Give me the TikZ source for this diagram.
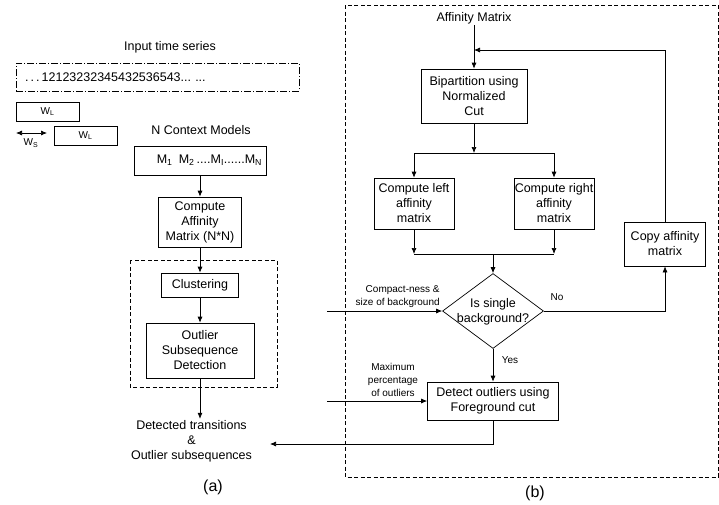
\documentclass[tikz,border=0pt]{standalone}
\usepackage{fontspec}
\setmainfont{Liberation Sans}
\usetikzlibrary{arrows.meta}
\usetikzlibrary{shapes.geometric}

\newcommand{\mainfs}{\fontsize{12.5}{15}\selectfont}
\newcommand{\smallfs}{\fontsize{10}{13}\selectfont}
\newcommand{\capfs}{\fontsize{16}{19}\selectfont}

\begin{document}
\begin{tikzpicture}[x=1pt, y=-1pt,
        line width=0.7pt,
        >={Latex[length=6pt,width=5pt]},
        every node/.style={font=\mainfs, inner sep=1pt},
        box/.style={draw, align=center, inner sep=0pt},
        seqbox/.style={draw, inner sep=0pt, dash pattern=on 7pt off 2pt on 1pt off 2pt},
        grpbox/.style={draw, dash pattern=on 4pt off 2.5pt},
        decision/.style={draw, diamond, inner sep=0pt},
        note/.style={font=\smallfs, align=center}]
        \useasboundingbox (0,0) rectangle (719,504);

        \node (title) at (170,47) {Input time series};
        \node[seqbox, minimum width=283pt, minimum height=28pt, text width=265pt, align=left] (seq) at (157.5,77) {.\,.\,.\,12123232345432536543...\ ...};
        \node[box, font=\smallfs, minimum width=63pt, minimum height=19pt] (wl1) at (47.5,111.5) {W\textsubscript{L}};
        \node[box, font=\smallfs, minimum width=63pt, minimum height=19pt] (wl2) at (85.5,135.5) {W\textsubscript{L}};
        \coordinate (ws1) at (16,133);
        \coordinate (ws2) at (47,133);
        \draw[<->] (ws1) -- (ws2);
        \node[font=\smallfs] (ws) at (31,143) {W\textsubscript{S}};

        \node (ctx) at (201,130) {N Context Models};
        \node[box, minimum width=132pt, minimum height=29pt, text width=124pt, align=right] (models) at (200,160.5) {M\textsubscript{1}\,\ M\textsubscript{2}\,....M\textsubscript{I}......M\textsubscript{N}};
        \node[box, minimum width=83pt, minimum height=50pt] (affin) at (200,222) {Compute\\Affinity\\Matrix (N*N)};
        \node[box, minimum width=77pt, minimum height=24pt] (clust) at (200,285) {Clustering};
        \node[box, minimum width=108pt, minimum height=55pt] (outlier) at (200,350.5) {Outlier\\Subsequence\\Detection};
        \draw[grpbox] (130,260) rectangle (277,387);
        \node[align=center] (result) at (191.5,441) {Detected transitions\\\&\\Outlier subsequences};
        \node[font=\capfs] (capa) at (213,487) {(a)};

        \draw[->] (models) -- (affin);
        \draw[->] (affin) -- (clust);
        \draw[->] (clust) -- (outlier);
        \draw[->] (outlier) -- (outlier |- result.north);

        \draw[grpbox] (345,5) rectangle (718,477);
        \node (affmat) at (474,18) {Affinity Matrix};
        \node[box, minimum width=106pt, minimum height=54pt] (bipart) at (474,96) {Bipartition using\\Normalized\\Cut};
        \coordinate (split) at (474,153);
        \node[box, minimum width=80pt, minimum height=51pt] (leftaff) at (414,203.5) {Compute left\\affinity\\matrix};
        \node[box, minimum width=80pt, minimum height=51pt] (rightaff) at (554,203.5) {Compute right\\affinity\\matrix};
        \coordinate (join) at (493,254);
        \node[decision, minimum width=101pt, minimum height=75pt] (single) at (493,311) {};
        \node[align=center] (singletxt) at (493,312) {Is single\\background?};
        \node[box, minimum width=81pt, minimum height=44pt] (copyaff) at (665,244) {Copy affinity\\matrix};
        \coordinate (loopin) at (474,50);
        \node[box, minimum width=131pt, minimum height=38pt] (detect) at (493,401) {Detect outliers using\\Foreground cut};
        \coordinate (cin) at (327,311);
        \coordinate (pin) at (327,401);
        \coordinate (outend) at (270,444);
        \node[note, align=right, anchor=east] (compact) at (441,297) {Compact-ness \&\\size of background};
        \node[note] (maxpct) at (393,380) {Maximum\\percentage\\of outliers};
        \node[font=\smallfs] (no) at (557,297) {No};
        \node[font=\smallfs] (yes) at (510,360) {Yes};
        \node[font=\capfs] (capb) at (535,493) {(b)};

        \draw[->] (affmat) -- (bipart);
        \draw[->] (bipart) -- (split);
        \draw[->] (split) -| (leftaff);
        \draw[->] (split) -| (rightaff);
        \draw[->] (leftaff) -- (leftaff |- join);
        \draw[->] (rightaff) -- (rightaff |- join);
        \draw (leftaff |- join) -- (rightaff |- join);
        \draw[->] (join) -- (single);
        \draw[->] (single) -- (detect);
        \draw[->] (single.east) -| (copyaff);
        \draw[->] (copyaff) |- (loopin);
        \draw[->] (cin) -- (single.west);
        \draw[->] (pin) -- (detect);
        \draw[->] (detect) |- (outend);
    \end{tikzpicture}
\end{document}
